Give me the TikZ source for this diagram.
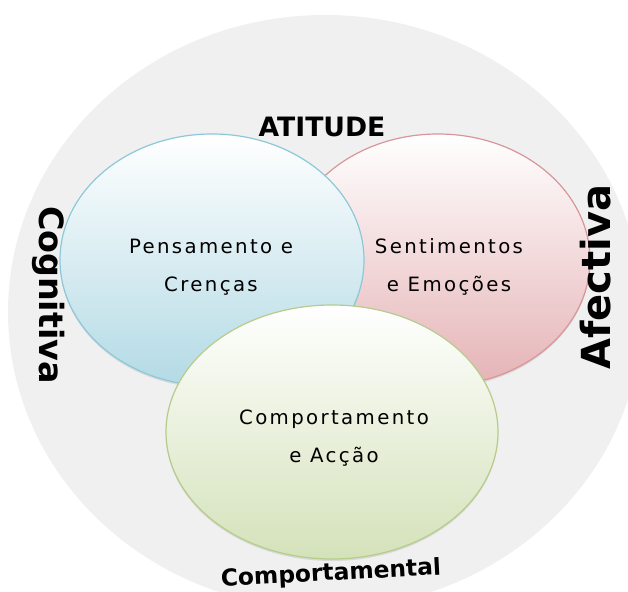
\documentclass[tikz,border=0pt]{standalone}
\usepackage{fontspec}
\setmainfont{DejaVu Sans}
\newfontfamily\bubblefont{DejaVu Sans}[LetterSpace=12]
\usetikzlibrary{shapes.geometric,shadows}
\definecolor{ringgray}{HTML}{F0F0F0}
\definecolor{cogline}{HTML}{8DC8DA}
\definecolor{cogfill}{HTML}{B3DAE5}
\definecolor{affline}{HTML}{D8959A}
\definecolor{afffill}{HTML}{E5B3B6}
\definecolor{behline}{HTML}{B5CC8A}
\definecolor{behfill}{HTML}{D4E2BA}
\begin{document}
\begin{tikzpicture}[
		x=0.75pt, y=-0.75pt,
		bubble/.style={ellipse, minimum width=228pt, minimum height=189pt, line width=0.9pt,
				drop shadow={shadow xshift=0pt, shadow yshift=-1.5pt, opacity=0.2}},
		bubbletext/.style={align=center, font=\bubblefont\fontsize{14.8}{28.5}\selectfont},
		sidelabel/.style={font=\bfseries}
	]
	\useasboundingbox (0,0) rectangle (628,592);
	\clip (0,0) rectangle (628,592);
	\node[ellipse, fill=ringgray, minimum width=475.5pt, minimum height=445.5pt] (attitude) at (325,312) {};
	% the three components
	\node[bubble, draw=affline, top color=white, bottom color=afffill] (affective) at (438,260) {};
	\node[bubble, draw=cogline, top color=white, bottom color=cogfill] (cognitive) at (212,260) {};
	\node[bubble, draw=behline, top color=white, bottom color=behfill,
		minimum width=249pt, minimum height=190.5pt] (behaviour) at (332,432) {};
	\node[bubbletext] (cogText) at (211,267) {Pensamento e\\Crenças};
	\node[bubbletext] (affText) at (449,267) {Sentimentos\\e Emoções};
	\node[bubbletext] (behText) at (334,438) {Comportamento\\e Acção};
	% labels round the ring
	\node[sidelabel, font=\bfseries\fontsize{20}{24}\selectfont] (attLabel) at (322,127) {ATITUDE};
	\node[sidelabel, font=\bfseries\fontsize{25}{30}\selectfont, rotate=-90] (cogLabel) at (49,295) {Cognitiva};
	\node[sidelabel, font=\bfseries\fontsize{30}{36}\selectfont, rotate=90] (affLabel) at (596,277) {Afectiva};
	\node[sidelabel, font=\bfseries\fontsize{17.5}{21}\selectfont, rotate=3] (behLabel) at (331,574) {Comportamental};
\end{tikzpicture}
\end{document}
